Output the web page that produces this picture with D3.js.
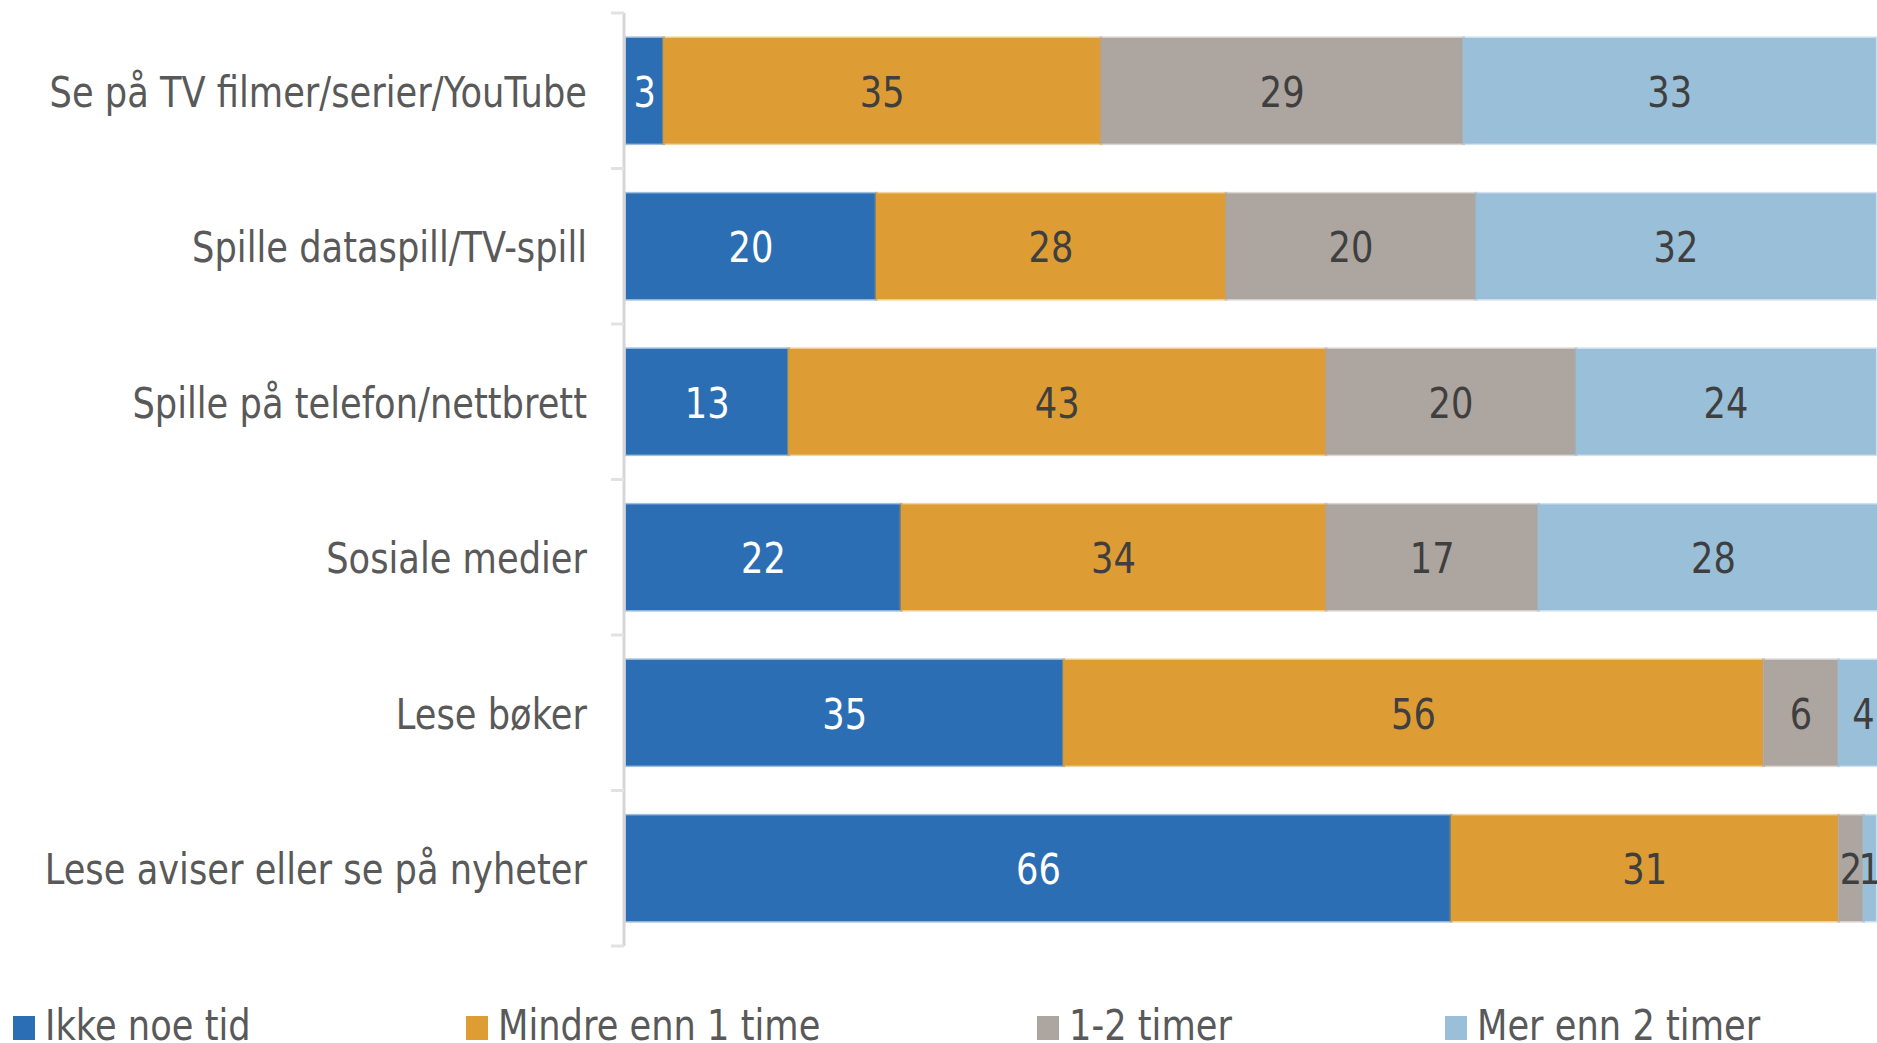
<!DOCTYPE html>
<html>
<head>
<meta charset="utf-8">
<script src="https://cdn.jsdelivr.net/npm/d3@7"></script>
<style>
  html, body { margin: 0; padding: 0; background: #ffffff; overflow: hidden; }
  svg { display: block; }
  text { font-family: "DejaVu Sans", sans-serif; }
</style>
</head>
<body>
<svg id="chart" width="1877" height="1043"></svg>
<script>
// ---- Data ----
const categories = [
  "Se på TV filmer/serier/YouTube",
  "Spille dataspill/TV-spill",
  "Spille på telefon/nettbrett",
  "Sosiale medier",
  "Lese bøker",
  "Lese aviser eller se på nyheter"
];
const seriesNames = ["Ikke noe tid", "Mindre enn 1 time", "1-2 timer", "Mer enn 2 timer"];
const ikkeNoeTid   = [3, 20, 13, 22, 35, 66];
const mindreEnn1   = [35, 28, 43, 34, 56, 31];
const enTilToTimer = [29, 20, 20, 17, 6, 2];
const merEnn2      = [33, 32, 24, 28, 4, 1];
const seriesColors = ["#2C6EB3", "#DE9D34", "#ADA59F", "#99BFD9"];
const labelColors  = ["#ffffff", "#3f3f3f", "#3f3f3f", "#3f3f3f"];

// ---- Layout ----
const W = 1877, H = 1043;
const axisX = 624;
const xStart = 626, xEnd = 1876;
const yTop = 13, yBottom = 946;
const fontSize = 43, squeeze = 0.82;
const textGray = "#595959";
const legendX = [13, 466, 1037, 1445];

const rows = categories.map((c, i) => ({
  category: c,
  [seriesNames[0]]: ikkeNoeTid[i],
  [seriesNames[1]]: mindreEnn1[i],
  [seriesNames[2]]: enTilToTimer[i],
  [seriesNames[3]]: merEnn2[i]
}));

const stacked = d3.stack().keys(seriesNames)(rows);

const x = d3.scaleLinear().domain([0, 100]).range([xStart, xEnd]);
const y = d3.scaleBand().domain(categories).range([yTop, yBottom])
  .paddingInner(0.32).paddingOuter(0.16);
const color = d3.scaleOrdinal().domain(seriesNames).range(seriesColors);
const lblColor = d3.scaleOrdinal().domain(seriesNames).range(labelColors);

const svg = d3.select("#chart");
svg.append("rect").attr("width", W).attr("height", H).attr("fill", "#ffffff");

// ---- Bars ----
const layers = svg.append("g").selectAll("g")
  .data(stacked).join("g")
  .attr("fill", d => color(d.key));

layers.selectAll("rect")
  .data(d => d.map(v => ({ key: d.key, x0: v[0], x1: v[1], cat: v.data.category })))
  .join("rect")
  .attr("x", d => x(d.x0))
  .attr("y", d => y(d.cat))
  .attr("width", d => x(d.x1) - x(d.x0))
  .attr("height", y.bandwidth())
  .attr("stroke", d => color(d.key))
  .attr("stroke-opacity", 0.45)
  .attr("stroke-width", 3);

// ---- Value labels ----
const step = y.step();
svg.append("g").selectAll("g")
  .data(stacked).join("g")
  .selectAll("text")
  .data(d => d.map(v => ({ key: d.key, x0: v[0], x1: v[1], cat: v.data.category, val: v.data[d.key] })))
  .join("text")
  .attr("transform", d => `translate(${(x(d.x0) + x(d.x1)) / 2},${y(d.cat) + y.bandwidth() / 2 + 16}) scale(${squeeze},1)`)
  .attr("text-anchor", "middle")
  .attr("font-size", fontSize)
  .attr("fill", d => lblColor(d.key))
  .text(d => d.val);

// ---- Axis (left) ----
const axisG = svg.append("g");
axisG.append("line")
  .attr("x1", axisX).attr("x2", axisX)
  .attr("y1", yTop).attr("y2", yBottom)
  .attr("stroke", "#d6d6d6").attr("stroke-width", 3);
const tickYs = categories.map(c => y(c) - step * y.paddingInner() / 2).concat([yBottom]);
axisG.selectAll("line.tick").data(tickYs).join("line")
  .attr("class", "tick")
  .attr("x1", axisX - 13).attr("x2", axisX)
  .attr("y1", d => d).attr("y2", d => d)
  .attr("stroke", "#e2e2e2").attr("stroke-width", 3);

// ---- Category labels ----
svg.append("g").selectAll("text")
  .data(categories).join("text")
  .attr("transform", d => `translate(587,${y(d) + y.bandwidth() / 2 + 16}) scale(${squeeze},1)`)
  .attr("text-anchor", "end")
  .attr("font-size", fontSize)
  .attr("fill", textGray)
  .text(d => d);

// ---- Legend ----
const legend = svg.append("g").selectAll("g")
  .data(seriesNames).join("g")
  .attr("transform", (d, i) => `translate(${legendX[i]},1040)`);
legend.append("rect")
  .attr("x", 0).attr("y", -24).attr("width", 22).attr("height", 24)
  .attr("fill", d => color(d));
legend.append("text")
  .attr("transform", `translate(32,0) scale(${squeeze},1)`)
  .attr("font-size", fontSize)
  .attr("fill", textGray)
  .text(d => d);
</script>
</body>
</html>
